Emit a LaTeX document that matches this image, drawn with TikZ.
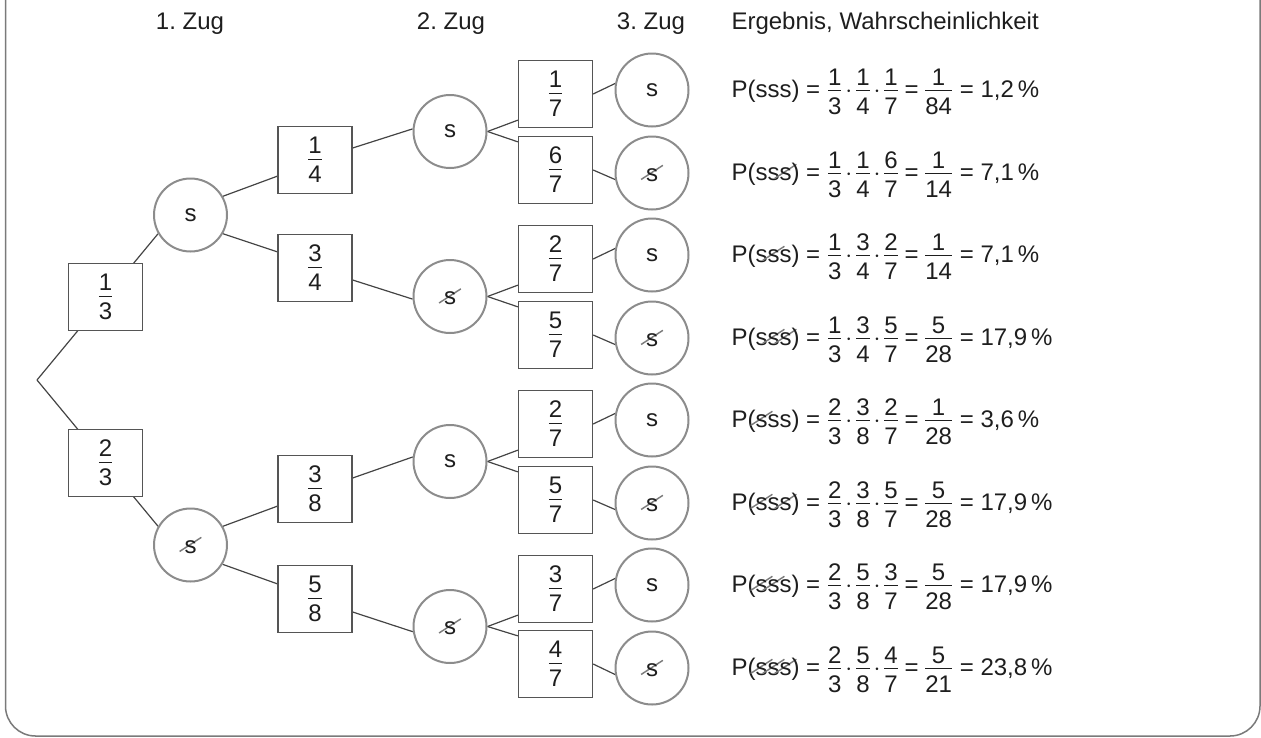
\documentclass[tikz,border=0pt]{standalone}
\usepackage{amsmath}
\usepackage{fontspec}
\setmainfont{Liberation Sans}
\usetikzlibrary{calc,backgrounds}
\frenchspacing

\definecolor{ink}{HTML}{1E1E1E}
\definecolor{ringgray}{HTML}{8C8C8C}
\definecolor{boxgray}{HTML}{555555}
\definecolor{linegray}{HTML}{444444}
\definecolor{slashgray}{HTML}{7C7C7C}
\definecolor{framegray}{HTML}{7A7A7A}

% "not s": the letter s struck through by a grey stroke
\newcommand\notS{\makebox[0pt][l]{\hspace{-0.22em}\raisebox{0.04em}{\rotatebox[origin=lb]{33}{\textcolor{slashgray}{\rule{1.08em}{0.06em}}}}}s}
% fraction with upright text digits
\newcommand\fr[2]{\ensuremath{\genfrac{}{}{1.1pt}{0}{\raisebox{-5pt}{#1}}{\mbox{#2}}}}
% tight product dot and equals sign between fractions
\newcommand\dt{\mkern2mu\mathord{\cdot}\mkern2mu}
\newcommand\eq{\mkern4mu\mathord{\mbox{=}}\mkern4mu}

\tikzset{
  every node/.style={text=ink, font=\fontsize{24}{28}\selectfont},
  prob/.style={draw=boxgray, line width=1.3pt, fill=white, minimum width=74pt, minimum height=67pt, inner sep=0pt},
  ring/.style={circle, draw=ringgray, line width=2pt, fill=white, minimum size=73pt, inner sep=0pt},
  branch/.style={draw=linegray, line width=1.2pt},
  res/.style={anchor=base west},
  head/.style={anchor=base},
}

\begin{document}
\begin{tikzpicture}[x=1pt,y=-1pt]
\useasboundingbox (0,0) rectangle (1261,737);

% frame
\draw[framegray, line width=1.5pt, rounded corners=30pt] (5.5,0) -- (5.5,736) -- (1260,736) -- (1260,0);

% headings
\node[head] (h1) at (190,29) {1. Zug};
\node[head] (h2) at (451,29) {2. Zug};
\node[head] (h3) at (651,29) {3. Zug};
\node[anchor=base west] (h4) at (728,29) {Ergebnis, Wahrscheinlichkeit};

% root
\coordinate (root) at (37,380);

% first draw
\node[prob] (b13) at (105.5,297) {\fr{1}{3}};
\node[prob] (b23) at (105.5,463) {\fr{2}{3}};
\node[ring] (c1a) at (190.5,215) {s};
\node[ring] (c1b) at (190.5,545) {\notS};

% second draw
\node[prob] (b14) at (315,160) {\fr{1}{4}};
\node[prob] (b34) at (315,268) {\fr{3}{4}};
\node[prob] (b38) at (315,489) {\fr{3}{8}};
\node[prob] (b58) at (315,599) {\fr{5}{8}};
\node[ring] (c2a) at (450,131.5) {s};
\node[ring] (c2b) at (450,296.5) {\notS};
\node[ring] (c2c) at (450,461.5) {s};
\node[ring] (c2d) at (450,626.5) {\notS};

% third draw
\node[prob] (b3a) at (555.5,94)  {\fr{1}{7}};
\node[prob] (b3b) at (555.5,170) {\fr{6}{7}};
\node[prob] (b3c) at (555.5,259) {\fr{2}{7}};
\node[prob] (b3d) at (555.5,335) {\fr{5}{7}};
\node[prob] (b3e) at (555.5,424) {\fr{2}{7}};
\node[prob] (b3f) at (555.5,500) {\fr{5}{7}};
\node[prob] (b3g) at (555.5,589) {\fr{3}{7}};
\node[prob] (b3h) at (555.5,664) {\fr{4}{7}};
\node[ring] (c3a) at (652,90)  {s};
\node[ring] (c3b) at (652,173) {\notS};
\node[ring] (c3c) at (652,255) {s};
\node[ring] (c3d) at (652,338) {\notS};
\node[ring] (c3e) at (652,420) {s};
\node[ring] (c3f) at (652,503) {\notS};
\node[ring] (c3g) at (652,585) {s};
\node[ring] (c3h) at (652,668) {\notS};

% results
\node[res] (r1) at (728,97)  {P(sss) = $\fr{1}{3}\dt\fr{1}{4}\dt\fr{1}{7}\eq\fr{1}{84}$ = 1,2\,\%};
\node[res] (r2) at (728,180) {P(ss\notS) = $\fr{1}{3}\dt\fr{1}{4}\dt\fr{6}{7}\eq\fr{1}{14}$ = 7,1\,\%};
\node[res] (r3) at (728,262) {P(s\notS s) = $\fr{1}{3}\dt\fr{3}{4}\dt\fr{2}{7}\eq\fr{1}{14}$ = 7,1\,\%};
\node[res] (r4) at (728,345) {P(s\notS\notS) = $\fr{1}{3}\dt\fr{3}{4}\dt\fr{5}{7}\eq\fr{5}{28}$ = 17,9\,\%};
\node[res] (r5) at (728,427) {P(\notS ss) = $\fr{2}{3}\dt\fr{3}{8}\dt\fr{2}{7}\eq\fr{1}{28}$ = 3,6\,\%};
\node[res] (r6) at (728,510) {P(\notS s\notS) = $\fr{2}{3}\dt\fr{3}{8}\dt\fr{5}{7}\eq\fr{5}{28}$ = 17,9\,\%};
\node[res] (r7) at (728,592) {P(\notS\notS s) = $\fr{2}{3}\dt\fr{5}{8}\dt\fr{3}{7}\eq\fr{5}{28}$ = 17,9\,\%};
\node[res] (r8) at (728,675) {P(\notS\notS\notS) = $\fr{2}{3}\dt\fr{5}{8}\dt\fr{4}{7}\eq\fr{5}{21}$ = 23,8\,\%};

% branches, behind the boxes and circles
\begin{pgfonlayer}{background}
\draw[branch] (root) -- (c1a.210);
\draw[branch] (root) -- (c1b.150);

\draw[branch] (c1a.30)  -- ($(b14.south west)+(0,-18)$);
\draw[branch] (c1a.-30) -- ($(b34.north west)+(0,18)$);
\draw[branch] (c1b.30)  -- ($(b38.south west)+(0,-17)$);
\draw[branch] (c1b.-31) -- ($(b58.north west)+(0,19)$);

\draw[branch] ($(b14.east)+(0,-12)$) -- (c2a.176);
\draw[branch] ($(b34.east)+(0,12)$)  -- (c2b.184);
\draw[branch] ($(b38.east)+(0,-11)$) -- (c2c.173);
\draw[branch] ($(b58.east)+(0,13)$)  -- (c2d.188);

\draw[branch] (c2a.east) -- ($(b3a.south west)+(0,-8)$);
\draw[branch] (c2a.east) -- ($(b3b.north west)+(0,6)$);
\draw[branch] (c2b.east) -- ($(b3c.south west)+(0,-8)$);
\draw[branch] (c2b.east) -- ($(b3d.north west)+(0,6)$);
\draw[branch] (c2c.east) -- ($(b3e.south west)+(0,-8)$);
\draw[branch] (c2c.east) -- ($(b3f.north west)+(0,6)$);
\draw[branch] (c2d.east) -- ($(b3g.south west)+(0,-8)$);
\draw[branch] (c2d.east) -- ($(b3h.north west)+(0,6)$);

\draw[branch] (b3a.east) -- (c3a.170);
\draw[branch] (b3b.east) -- (c3b.190);
\draw[branch] (b3c.east) -- (c3c.170);
\draw[branch] (b3d.east) -- (c3d.190);
\draw[branch] (b3e.east) -- (c3e.170);
\draw[branch] (b3f.east) -- (c3f.190);
\draw[branch] (b3g.east) -- (c3g.170);
\draw[branch] (b3h.east) -- (c3h.190);
\end{pgfonlayer}
\end{tikzpicture}
\end{document}
